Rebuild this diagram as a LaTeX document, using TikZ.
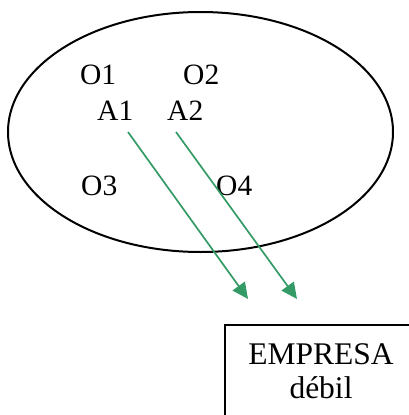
\documentclass[tikz,border=0pt]{standalone}
\usepackage{fontspec}
\setmainfont{Liberation Serif}
\usetikzlibrary{arrows.meta,shapes.geometric}
\definecolor{arrowgreen}{RGB}{52,155,102}
\begin{document}
\begin{tikzpicture}[x=1pt,y=-1pt,
  lbl/.style={anchor=base west,inner sep=0pt,font=\fontsize{29.5}{34}\selectfont},
  boxtxt/.style={anchor=base,inner sep=0pt,font=\fontsize{31.5}{34}\selectfont},
  conn/.style={draw=arrowgreen,line width=1.7pt,-{Triangle[length=16pt,width=15pt]},fill=arrowgreen}]
\useasboundingbox (0,0) rectangle (408,415);
\node[draw,line width=2pt,ellipse,minimum width=385pt,minimum height=240pt,inner sep=0pt] (set) at (200.5,132) {};
\node[lbl] (o1) at (80,84) {O1};
\node[lbl] (o2) at (183,84) {O2};
\node[lbl] (a1) at (97,120) {A1};
\node[lbl] (a2) at (167,120) {A2};
\node[lbl] (o3) at (81,195) {O3};
\node[lbl] (o4) at (216,195) {O4};
\coordinate (s1) at (128,132);
\coordinate (e1) at (248,299);
\coordinate (s2) at (176,132);
\coordinate (e2) at (297,299);
\draw[conn] (s1) -- (e1);
\draw[conn] (s2) -- (e2);
\node[draw,line width=2.5pt,minimum width=192pt,minimum height=110pt,inner sep=0pt] (box) at (321,380) {};
\node[boxtxt] (t1) at (321,364) {EMPRESA};
\node[boxtxt] (t2) at (321,398) {débil};
\end{tikzpicture}
\end{document}
